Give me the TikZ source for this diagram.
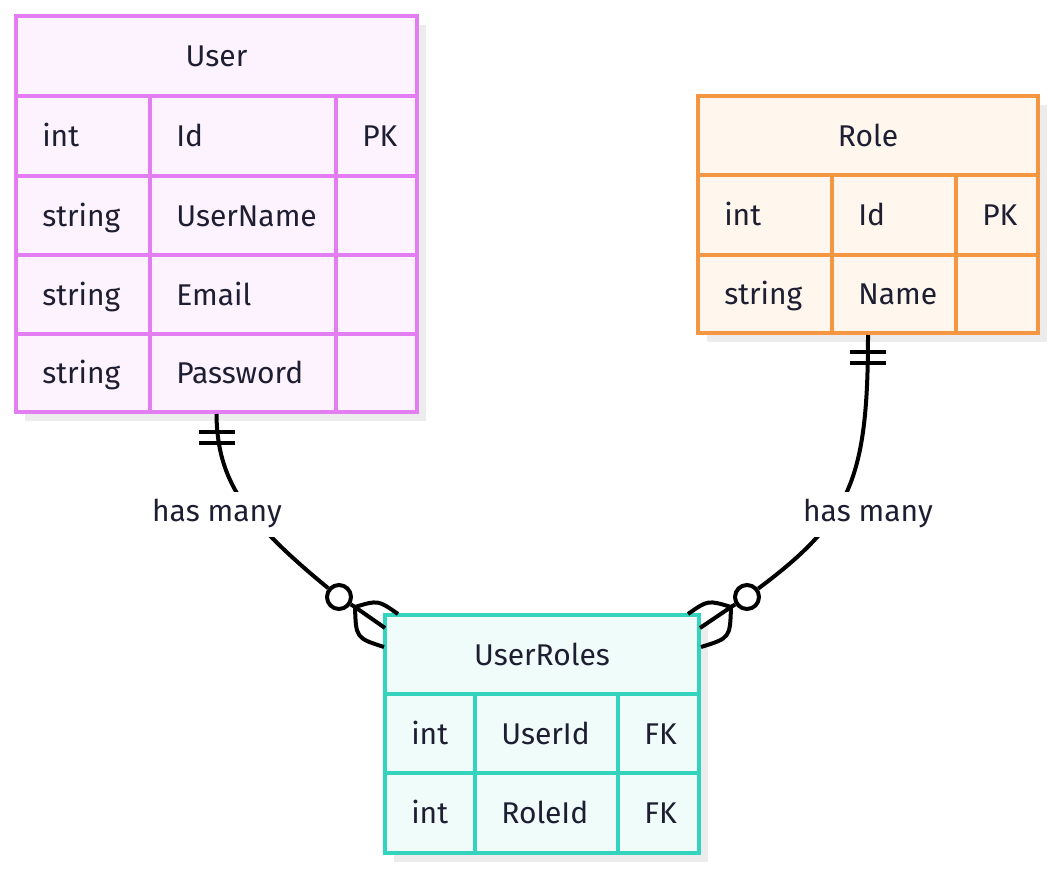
\documentclass[tikz,border=0pt]{standalone}
\usepackage{fontspec}
\setmainfont{Fira Sans}
\usepackage{xcolor}
\definecolor{userline}{RGB}{226,125,242}
\definecolor{userfill}{RGB}{253,243,254}
\definecolor{roleline}{RGB}{244,150,66}
\definecolor{rolefill}{RGB}{255,246,237}
\definecolor{linkline}{RGB}{52,211,190}
\definecolor{linkfill}{RGB}{240,252,250}
\definecolor{ink}{RGB}{30,30,50}
\definecolor{shadowgrey}{RGB}{236,236,236}
\newcommand\erfont{\fontsize{22.5}{27}\selectfont}

\begin{document}
\begin{tikzpicture}[x=0.75pt,y=0.75pt,yscale=-1,xscale=1,
    entity/.style={draw, line width=3pt, inner sep=0pt},
    grid/.style={line width=3pt},
    cell/.style={anchor=mid west, inner sep=0pt, font=\erfont, text=ink, yshift=-5.5pt},
    title/.style={anchor=mid, inner sep=0pt, font=\erfont, text=ink, yshift=-5.5pt},
    rel/.style={line width=3pt, black},
    zero/.style={circle, draw, fill=white, line width=3pt, minimum size=18pt, inner sep=0pt},
    lbl/.style={fill=white, inner xsep=3pt, inner ysep=0pt, text height=22pt, text depth=12pt, font=\erfont, text=ink}]
    \useasboundingbox (0,0) rectangle (1054,870);

    %Shadows
    \fill[shadowgrey] (25,25) rectangle (426,421);
    \fill[shadowgrey] (707,105) rectangle (1047,342);
    \fill[shadowgrey] (394,624) rectangle (708,862);

    %Entity: User
    \node[entity, draw=userline, fill=userfill, minimum width=300.75pt, minimum height=297pt] (user) at (216.5,214) {};
    \foreach \y in {96,176,255,334}
        \draw[grid, userline] (16,\y) -- (417,\y);
    \draw[grid, userline] (150,96) -- (150,412);
    \draw[grid, userline] (336,96) -- (336,412);
    \node[title] (utitle) at (216.5,56) {User};
    \foreach [count=\i] \yy/\ty/\nm/\ky in {136/int/Id/PK,215.5/string/UserName/{},294.5/string/Email/{},373/string/Password/{}} {
        \node[cell] (utype\i) at (42,\yy) {\ty};
        \node[cell] (uname\i) at (176,\yy) {\nm};
        \node[cell] (ukey\i) at (362,\yy) {\ky};
    }

    %Entity: Role
    \node[entity, draw=roleline, fill=rolefill, minimum width=255pt, minimum height=177.75pt] (role) at (868,214.5) {};
    \foreach \y in {175,255}
        \draw[grid, roleline] (698,\y) -- (1038,\y);
    \draw[grid, roleline] (832,175) -- (832,333);
    \draw[grid, roleline] (956,175) -- (956,333);
    \node[title] (rtitle) at (868,135.5) {Role};
    \foreach [count=\i] \yy/\ty/\nm/\ky in {215/int/Id/PK,294/string/Name/{}} {
        \node[cell] (rtype\i) at (724,\yy) {\ty};
        \node[cell] (rname\i) at (858,\yy) {\nm};
        \node[cell] (rkey\i) at (982,\yy) {\ky};
    }

    %Entity: UserRoles
    \node[entity, draw=linkline, fill=linkfill, minimum width=235.5pt, minimum height=178.5pt] (userroles) at (542,734) {};
    \foreach \y in {694,773}
        \draw[grid, linkline] (385,\y) -- (699,\y);
    \draw[grid, linkline] (475,694) -- (475,853);
    \draw[grid, linkline] (618,694) -- (618,853);
    \node[title] (lttitle) at (542,654.5) {UserRoles};
    \foreach [count=\i] \yy/\ty/\nm/\ky in {733.5/int/UserId/FK,813/int/RoleId/FK} {
        \node[cell] (ltype\i) at (411,\yy) {\ty};
        \node[cell] (lname\i) at (501,\yy) {\nm};
        \node[cell] (lkey\i) at (644,\yy) {\ky};
    }

    %Relation: User -- UserRoles
    \node[zero] (uzero) at (339,597) {};
    \coordinate (ufork) at (355,607);
    \draw[rel] (user.south) .. controls (217,480) and (245,520) .. (uzero);
    \draw[rel] (199,432) -- (235,432);
    \draw[rel] (199,443) -- (235,443);
    \draw[rel] (uzero) -- (ufork);
    \draw[rel] (ufork) .. controls (378,600) .. (398,614);
    \draw[rel] (ufork) -- (385,628);
    \draw[rel] (ufork) .. controls (356,638) .. (384,647);
    \node[lbl] (ulabel) at (217,514.5) {has many};

    %Relation: Role -- UserRoles
    \node[zero] (rzero) at (747,597) {};
    \coordinate (rfork) at (731,607);
    \draw[rel] (role.south) .. controls (868,480) and (850,520) .. (rzero);
    \draw[rel] (850,352) -- (886,352);
    \draw[rel] (850,363) -- (886,363);
    \draw[rel] (rzero) -- (rfork);
    \draw[rel] (rfork) .. controls (708,600) .. (688,614);
    \draw[rel] (rfork) -- (700,628);
    \draw[rel] (rfork) .. controls (730,638) .. (701,647);
    \node[lbl] (rlabel) at (868,514.5) {has many};

\end{tikzpicture}
\end{document}
